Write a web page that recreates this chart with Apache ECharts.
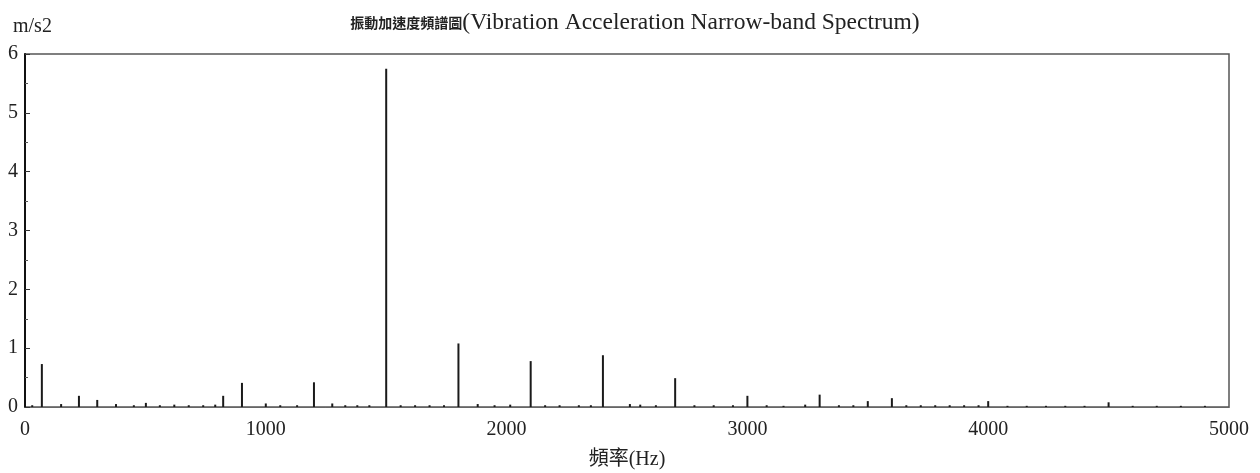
<!DOCTYPE html>
<html><head><meta charset="utf-8">
<script src="https://cdn.jsdelivr.net/npm/echarts@6/dist/echarts.min.js"></script>
<style>html,body{margin:0;padding:0;background:#fff}#c{width:1260px;height:473px}</style>
</head><body><div id="c"></div>
<script>
const titleCJK = '振動加速度頻譜圖';
const titleLatin = '(Vibration Acceleration Narrow-band Spectrum)';
const xName = '頻率(Hz)';
const yUnit = 'm/s2';
const xTicks = [0, 1000, 2000, 3000, 4000, 5000];
const yTicks = [0, 1, 2, 3, 4, 5, 6];
const freq = [30, 70, 150, 224, 300, 378, 452, 502, 560, 620, 680, 740, 790, 823, 901, 1000, 1060, 1130, 1200, 1276, 1330, 1380, 1430, 1500, 1560, 1620, 1680, 1740, 1800, 1880, 1950, 2015, 2100, 2160, 2220, 2300, 2350, 2400, 2512, 2555, 2620, 2700, 2780, 2860, 2940, 3000, 3080, 3150, 3240, 3300, 3380, 3440, 3500, 3600, 3660, 3720, 3780, 3840, 3900, 3960, 4000, 4080, 4160, 4240, 4320, 4400, 4500, 4600, 4700, 4800, 4900];
const amp  = [0.03, 0.73, 0.05, 0.19, 0.12, 0.05, 0.03, 0.07, 0.03, 0.04, 0.03, 0.03, 0.04, 0.19, 0.41, 0.06, 0.03, 0.03, 0.42, 0.06, 0.03, 0.03, 0.03, 5.75, 0.03, 0.03, 0.03, 0.03, 1.08, 0.05, 0.03, 0.04, 0.78, 0.03, 0.03, 0.03, 0.03, 0.88, 0.05, 0.04, 0.03, 0.49, 0.03, 0.03, 0.03, 0.19, 0.03, 0.02, 0.04, 0.21, 0.03, 0.03, 0.10, 0.15, 0.03, 0.03, 0.03, 0.03, 0.03, 0.03, 0.10, 0.02, 0.02, 0.02, 0.02, 0.02, 0.08, 0.02, 0.02, 0.02, 0.02];

const serif = '"Liberation Serif", "Noto Sans CJK TC", serif';
const chart = echarts.init(document.getElementById('c'), null, {renderer: 'canvas'});
chart.setOption({
  animation: false,
  backgroundColor: '#fff',
  title: {
    text: '{c|' + titleCJK + '}{l|' + titleLatin + '}',
    left: 630, textAlign: 'center', top: 6,
    textStyle: {
      fontWeight: 'normal',
      rich: {
        c: {fontFamily: '"Noto Sans CJK TC", sans-serif', fontSize: 14, fontWeight: 'bold', color: '#222'},
        l: {fontFamily: '"Liberation Serif", serif', fontSize: 23.5, fontWeight: 'normal', color: '#222'}
      }
    }
  },
  graphic: [{
    type: 'text', left: 13, top: 17,
    style: {text: yUnit, font: '20px "Liberation Serif", serif', fill: '#222'}
  }],
  grid: {left: 25, right: 31, top: 54, bottom: 66, outerBoundsMode: 'none', containLabel: false, show: true, borderColor: '#555', borderWidth: 1.5, backgroundColor: 'transparent'},
  xAxis: {
    type: 'value', min: xTicks[0], max: xTicks[xTicks.length - 1], interval: 1000,
    name: xName, nameLocation: 'middle', nameGap: 43,
    nameTextStyle: {fontFamily: serif, fontSize: 20, color: '#222'},
    axisLine: {show: true, lineStyle: {color: '#666', width: 1}},
    axisTick: {show: false},
    splitLine: {show: false},
    axisLabel: {margin: 13, fontFamily: serif, fontSize: 20, color: '#222', formatter: v => String(v)}
  },
  yAxis: {
    type: 'value', min: yTicks[0], max: yTicks[yTicks.length - 1], interval: 1,
    axisLine: {show: true, lineStyle: {color: '#111', width: 2}},
    axisTick: {show: true, inside: true, length: 5, lineStyle: {color: '#333'}},
    minorTick: {show: true, splitNumber: 2, length: 3, lineStyle: {color: '#555'}},
    splitLine: {show: false},
    axisLabel: {margin: 7, fontFamily: serif, fontSize: 20, color: '#222'}
  },
  series: [{
    type: 'bar',
    barWidth: 2,
    itemStyle: {color: '#1a1a1a'},
    data: freq.map((f, i) => [f, amp[i]])
  }]
});
</script></body></html>
